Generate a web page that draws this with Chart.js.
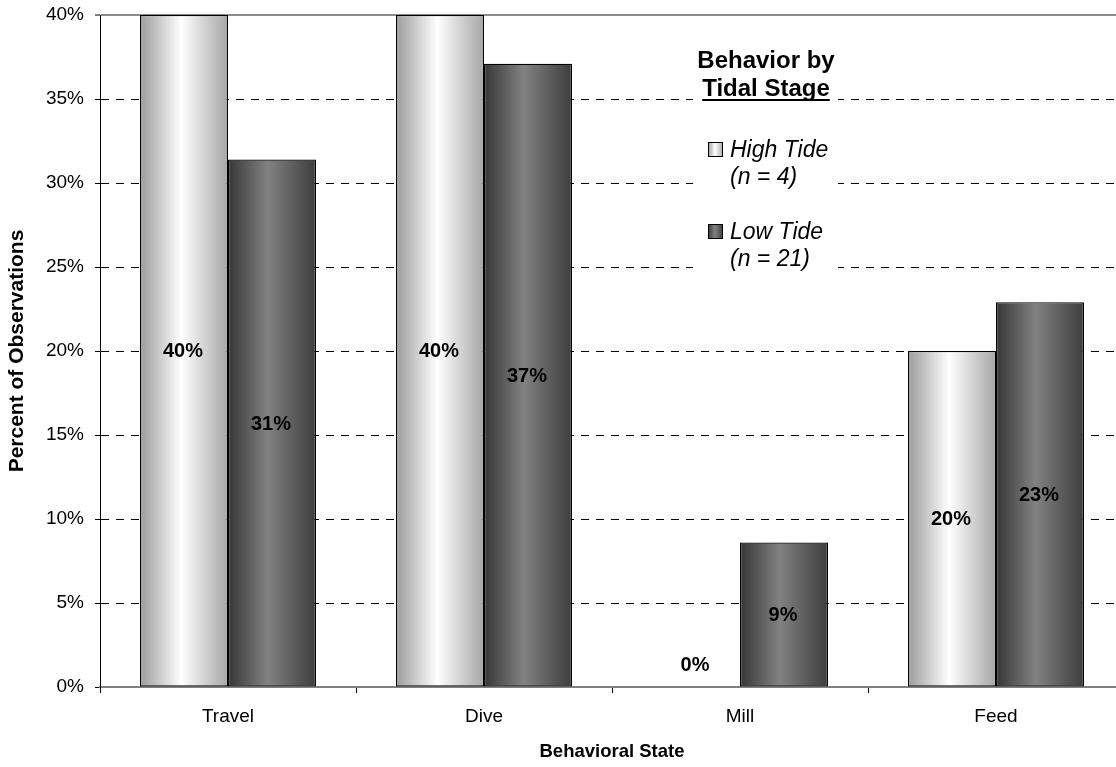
<!DOCTYPE html>
<html>
<head>
<meta charset="utf-8">
<title>Behavior by Tidal Stage</title>
<script src="https://cdn.jsdelivr.net/npm/chart.js@4/dist/chart.umd.min.js"></script>
<style>
  html, body { margin: 0; padding: 0; background: #ffffff; overflow: hidden; }
  canvas { display: block; }
</style>
</head>
<body>
<canvas id="chart" width="1130" height="767"></canvas>
<script>
// Behavioral states observed
const categories = ['Travel', 'Dive', 'Mill', 'Feed'];
// Percent of observations per state
const highTide = [40, 40, 0, 20];
const lowTide = [31.4, 37.1, 8.6, 22.9];
// Y axis tick values (percent)
const yTickValues = [0, 5, 10, 15, 20, 25, 30, 35, 40];
// Legend text
const legendTitle = ['Behavior by', 'Tidal Stage'];
const seriesNames = ['High Tide', 'Low Tide'];
const seriesNotes = ['(n = 4)', '(n = 21)'];

const FONT = "'Liberation Sans', Arial, Helvetica, sans-serif";

// Horizontal "cylinder" shading for each bar
const highStops = [[0, '#9c9c9c'], [0.47, '#ffffff'], [1, '#a6a6a6']];
const lowStops = [[0, '#363636'], [0.45, '#828282'], [1, '#3c3c3c']];

function shade(ctx, x0, x1, stops) {
  const g = ctx.createLinearGradient(x0, 0, x1, 0);
  stops.forEach(([o, c]) => g.addColorStop(o, c));
  return g;
}

// Paints each bar with its own gradient once positions are known
const barShading = {
  id: 'barShading',
  beforeDatasetsDraw(chart) {
    const ctx = chart.ctx;
    chart.data.datasets.forEach((ds, di) => {
      chart.getDatasetMeta(di).data.forEach(el => {
        const { x, width } = el.getProps(['x', 'width'], true);
        el.options.backgroundColor = shade(ctx, x - width / 2, x + width / 2, ds.shadeStops);
      });
    });
  }
};

// Percent labels in the middle of each bar
const valueLabels = {
  id: 'valueLabels',
  afterDatasetsDraw(chart) {
    const ctx = chart.ctx;
    ctx.save();
    ctx.font = 'bold 20px ' + FONT;
    ctx.fillStyle = '#000';
    ctx.textAlign = 'center';
    ctx.textBaseline = 'middle';
    chart.data.datasets.forEach((ds, di) => {
      chart.getDatasetMeta(di).data.forEach((el, i) => {
        const v = ds.data[i];
        const { x, y, base } = el.getProps(['x', 'y', 'base'], true);
        const ly = v === 0 ? base - 23 : (y + base) / 2;
        ctx.fillText(Math.round(v) + '%', x - 1, ly + 1);
      });
    });
    ctx.restore();
  }
};

// Boxed legend inside the plot area
const tideLegend = {
  id: 'tideLegend',
  afterDraw(chart) {
    const ctx = chart.ctx;
    const cx = 766;
    ctx.save();
    ctx.fillStyle = '#ffffff';
    ctx.fillRect(693, 40, 145, 240);

    ctx.fillStyle = '#000';
    ctx.textAlign = 'center';
    ctx.textBaseline = 'alphabetic';
    ctx.font = 'bold 24px ' + FONT;
    ctx.fillText(legendTitle[0], cx, 68);
    ctx.fillText(legendTitle[1], cx, 96);
    const w = ctx.measureText(legendTitle[1]).width;
    ctx.fillRect(cx - w / 2, 99, w, 2);

    const rows = [157, 239];
    chart.data.datasets.forEach((ds, di) => {
      const by = rows[di];
      const sx = 708, sy = by - 15, s = 15;
      ctx.fillStyle = shade(ctx, sx, sx + s, ds.shadeStops);
      ctx.fillRect(sx, sy, s, s);
      ctx.strokeStyle = '#000';
      ctx.lineWidth = 1;
      ctx.strokeRect(sx + 0.5, sy + 0.5, s - 1, s - 1);

      ctx.fillStyle = '#000';
      ctx.textAlign = 'left';
      ctx.font = 'italic 23px ' + FONT;
      ctx.fillText(seriesNames[di], 730, by);
      ctx.fillText(seriesNotes[di], 730, by + 27);
    });
    ctx.restore();
  }
};

Chart.defaults.font.family = FONT;
Chart.defaults.color = '#000';

new Chart(document.getElementById('chart'), {
  type: 'bar',
  data: {
    labels: categories,
    datasets: [
      {
        label: seriesNames[0],
        data: highTide,
        shadeStops: highStops,
        backgroundColor: () => '#d0d0d0',
        borderColor: '#000',
        borderWidth: c => (c.raw === 0 ? 0 : 1.3),
        borderSkipped: false,
        categoryPercentage: 0.6875,
        barPercentage: 1
      },
      {
        label: seriesNames[1],
        data: lowTide,
        shadeStops: lowStops,
        backgroundColor: () => '#606060',
        borderColor: '#000',
        borderWidth: c => (c.raw === 0 ? 0 : 1.3),
        borderSkipped: false,
        categoryPercentage: 0.6875,
        barPercentage: 1
      }
    ]
  },
  options: {
    responsive: false,
    animation: false,
    events: [],
    layout: { padding: { top: 15, right: 6, left: 0, bottom: 0 } },
    plugins: {
      legend: { display: false },
      tooltip: { enabled: false }
    },
    scales: {
      x: {
        afterFit(scale) { scale.height = 80; },
        grid: {
          offset: true,
          drawOnChartArea: false,
          drawTicks: true,
          tickLength: 6,
          tickColor: '#000',
          tickWidth: 1
        },
        border: { color: '#808080', width: 2 },
        ticks: { color: '#000', font: { size: 19 }, padding: 12, maxRotation: 0 },
        title: {
          display: true,
          text: 'Behavioral State',
          color: '#000',
          font: { size: 18.5, weight: 'bold' },
          padding: { top: 0, bottom: 4 }
        }
      },
      y: {
        min: 0,
        max: 40,
        afterFit(scale) {
          scale.width = 100;
          scale.paddingTop = 0;
          scale.paddingBottom = 0;
        },
        afterBuildTicks(scale) { scale.ticks = yTickValues.map(v => ({ value: v })); },
        grid: {
          color: c => {
            const v = c.tick ? c.tick.value : null;
            if (v === 40) return '#8c8c8c';
            if (v === 0) return 'rgba(0,0,0,0)';
            return '#000';
          },
          lineWidth: c => (c.tick && c.tick.value === 40 ? 2 : 1),
          drawTicks: true,
          tickLength: 5,
          tickColor: '#000',
          tickWidth: 1
        },
        border: {
          color: '#000',
          width: 1,
          dash: c => (c.tick && c.tick.value === 40 ? [] : [8, 7])
        },
        ticks: {
          color: '#000',
          font: { size: 19 },
          padding: 11,
          callback: v => v + '%'
        },
        title: {
          display: true,
          text: 'Percent of Observations',
          color: '#000',
          font: { size: 21, weight: 'bold' },
          padding: { top: 5, bottom: 0 }
        }
      }
    }
  },
  plugins: [barShading, valueLabels, tideLegend]
});
</script>
</body>
</html>
